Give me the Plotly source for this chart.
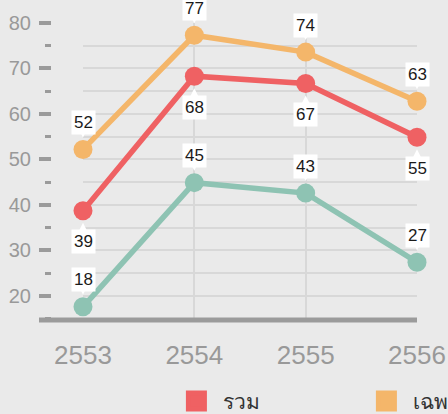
import plotly.graph_objects as go

# ---- data ----
years = [2553, 2554, 2555, 2556]
total_vals = [38.7, 68.3, 66.7, 54.9]      # รวม (red)
urban_vals = [52.2, 77.3, 73.6, 62.8]      # เฉพาะ... (orange)
rural_vals = [17.6, 44.9, 42.6, 27.4]      # teal
series_names = ["รวม", "เฉพาะในเขตเทศบาล", "เฉพาะนอกเขตเทศบาล"]
y_tick_vals = [20, 30, 40, 50, 60, 70, 80]

# ---- style ----
RED = "#ef6163"
ORANGE = "#f4b66a"
TEAL = "#8ec3b3"
BG = "#eaeaea"
GRID = "#d8d8d8"
AXIS = "#9b9b9b"
FONT = "Liberation Sans, Arial, sans-serif"

series = [
    (series_names[0], total_vals, RED, 31),
    (series_names[1], urban_vals, ORANGE, -27),
    (series_names[2], rural_vals, TEAL, -27),
]

fig = go.Figure()
for name, vals, color, _ in series:
    fig.add_trace(go.Scatter(
        x=years, y=vals, mode="lines+markers", name=name,
        line=dict(color=color, width=5.5),
        marker=dict(color=color, size=19),
        cliponaxis=False, showlegend=False, hoverinfo="skip",
    ))
# legend entries (square swatches)
for name, vals, color, _ in series:
    fig.add_trace(go.Scatter(
        x=[None], y=[None], mode="markers", name=name,
        marker=dict(color=color, size=30, symbol="square",
                    line=dict(color=color, width=6)),
        showlegend=True,
    ))

annotations = []
for name, vals, color, off in series:
    for x, v in zip(years, vals):
        annotations.append(dict(
            x=x, y=v, xref="x", yref="y",
            text=str(round(v)),
            font=dict(family=FONT, size=17, color="#1a1a1a"),
            bgcolor="white", borderpad=2,
            showarrow=True, ax=0, ay=off, axref="pixel", ayref="pixel",
            arrowcolor="white",
            arrowhead=2, arrowsize=1.8, arrowwidth=1, standoff=12,
        ))

fig.update_layout(
    width=448, height=414,
    paper_bgcolor=BG, plot_bgcolor=BG,
    margin=dict(l=39, r=31, t=23, b=94, autoexpand=False),
    font=dict(family=FONT, color="#999999"),
    showlegend=True,
    legend=dict(
        orientation="h", x=0.345, xanchor="left", y=-0.205, yanchor="top",
        font=dict(family=FONT, size=21, color="#333333"),
        entrywidth=131, itemwidth=44, itemsizing="trace", bgcolor="rgba(0,0,0,0)",
    ),
    annotations=annotations,
    shapes=[dict(type="line", xref="paper", yref="paper", x0=0, x1=1, y0=0, y1=0,
                 line=dict(color=AXIS, width=5), layer="above")],
    xaxis=dict(
        range=[2553, 2556], domain=[44 / 378, 1],
        tickvals=years, tickformat="d",
        showgrid=True, gridcolor=GRID, gridwidth=2,
        showline=False, zeroline=False,
        ticks="outside", ticklen=0, ticklabelstandoff=12,
        tickfont=dict(family=FONT, size=26, color="#999999"),
    ),
    yaxis=dict(
        range=[14.7, 80], anchor="free", position=12 / 378,
        tickvals=y_tick_vals,
        showgrid=True, gridcolor=GRID, gridwidth=2,
        showline=False, zeroline=False,
        ticks="outside", ticklen=12, tickwidth=4, tickcolor=AXIS,
        ticklabelstandoff=4,
        tickfont=dict(family=FONT, size=20, color="#999999"),
        minor=dict(dtick=5, tick0=0, ticks="outside", ticklen=6, tickwidth=3,
                   tickcolor=AXIS, showgrid=True, gridcolor=GRID, gridwidth=2),
    ),
)

fig.write_html("out.html", config={"displayModeBar": False},
               post_script="document.body.style.margin='0';")
